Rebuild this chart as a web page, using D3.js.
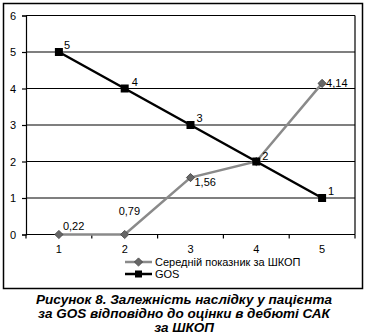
<!DOCTYPE html>
<html><head><meta charset="utf-8">
<script src="https://cdn.jsdelivr.net/npm/d3@7"></script>
<style>body{margin:0;background:#fff;}svg{display:block;}</style>
</head><body>
<script>
const categories = ["1","2","3","4","5"];
const shkopValues = [0, 0, 1.56, 2, 4.14];
const shkopLabels = ["0,22", "0,79", "1,56", "", "4,14"];
const gosValues = [5, 4, 3, 2, 1];
const gosLabels = ["5", "4", "3", "2", "1"];
const yTicks = [0,1,2,3,4,5,6];
const seriesNames = ["Середній показник за ШКОП", "GOS"];
const captionLines = ["Рисунок 8. Залежність наслідку у пацієнта", "за GOS відповідно до оцінки в дебюті САК", "за ШКОП"];

(function(){
const W = 367, H = 336;
const svg = d3.select("body").append("svg").attr("width", W).attr("height", H);
const font = "Arial, 'Liberation Sans', sans-serif";

svg.append("rect").attr("x", 3.5).attr("y", 3.5).attr("width", 359).attr("height", 285)
  .attr("fill", "none").attr("stroke", "#000").attr("stroke-width", 1.5);

const pLeft = 26, pRight = 355, pTop = 15.5, pBottom = 234.5;
const x = d3.scaleBand().domain(categories).range([pLeft, pRight]);
const y = d3.scaleLinear().domain([0, 6]).range([pBottom, pTop]);

svg.append("g").selectAll("line").data(yTicks).join("line")
  .attr("x1", pLeft).attr("x2", pRight)
  .attr("y1", d => y(d)).attr("y2", d => y(d))
  .attr("stroke", "#000").attr("stroke-width", 1.2);
svg.append("line").attr("x1", pRight).attr("x2", pRight).attr("y1", y(6)).attr("y2", y(0))
  .attr("stroke", "#000").attr("stroke-width", 1.2);

const yAxis = svg.append("g").attr("transform", `translate(${pLeft},0)`)
  .call(d3.axisLeft(y).tickValues(yTicks).tickSize(4).tickPadding(6).tickFormat(d3.format("d")));
yAxis.select(".domain").attr("stroke", "#000").attr("stroke-width", 1.2);
yAxis.selectAll("line").attr("stroke", "#000").attr("stroke-width", 1.2);
yAxis.selectAll("text").attr("font-family", font).attr("font-size", 11).attr("fill", "#000");

const xAxisG = svg.append("g").attr("transform", `translate(0,${pBottom})`);
xAxisG.append("line").attr("x1", pLeft).attr("x2", pRight).attr("stroke", "#000").attr("stroke-width", 1.2);
const bounds = categories.map(c => x(c)).concat([pRight]);
xAxisG.selectAll("line.tk").data(bounds).join("line").attr("class", "tk")
  .attr("x1", d => d).attr("x2", d => d).attr("y1", 0).attr("y2", 4)
  .attr("stroke", "#000").attr("stroke-width", 1.2);
xAxisG.selectAll("text").data(categories).join("text")
  .attr("x", d => x(d) + x.bandwidth()/2).attr("y", 18)
  .attr("text-anchor", "middle").attr("font-family", font).attr("font-size", 11).text(d => d);

const cx = c => x(c) + x.bandwidth()/2;
const line = d3.line().x((d,i) => cx(categories[i])).y(d => y(d));

svg.append("path").datum(shkopValues).attr("d", line)
  .attr("fill", "none").attr("stroke", "#8a8a8a").attr("stroke-width", 2.5);
svg.append("path").datum(gosValues).attr("d", line)
  .attr("fill", "none").attr("stroke", "#000").attr("stroke-width", 2.5);

const diamond = d3.symbol().type(d3.symbolSquare).size(34);
svg.append("g").selectAll("path").data(shkopValues).join("path")
  .attr("d", diamond)
  .attr("transform", (d,i) => `translate(${cx(categories[i])},${y(d)}) rotate(45)`)
  .attr("fill", "#666").attr("stroke", "#444").attr("stroke-width", 0.8);
svg.append("g").selectAll("rect").data(gosValues).join("rect")
  .attr("x", (d,i) => cx(categories[i]) - 4).attr("y", d => y(d) - 4)
  .attr("width", 8).attr("height", 8).attr("fill", "#000");

const gosOff = [[5,-3],[7,-3],[6,-3],[6,-2],[6,-3]];
svg.append("g").selectAll("text").data(gosValues).join("text")
  .attr("x", (d,i) => cx(categories[i]) + gosOff[i][0]).attr("y", (d,i) => y(d) + gosOff[i][1])
  .attr("font-family", font).attr("font-size", 11).text((d,i) => gosLabels[i]);
const shkopOff = [[4,-5],[-6,-20],[4,8],[0,0],[4,4]];
svg.append("g").selectAll("text").data(shkopValues).join("text")
  .attr("x", (d,i) => cx(categories[i]) + shkopOff[i][0]).attr("y", (d,i) => y(d) + shkopOff[i][1])
  .attr("font-family", font).attr("font-size", 11).text((d,i) => shkopLabels[i]);

const lg = svg.append("g").attr("transform", "translate(125,262)");
lg.append("line").attr("x1", 0).attr("x2", 27).attr("y1", 0).attr("y2", 0).attr("stroke", "#8a8a8a").attr("stroke-width", 2.5);
lg.append("path").attr("d", diamond).attr("transform", "translate(13.5,0) rotate(45)").attr("fill", "#666").attr("stroke", "#444").attr("stroke-width", 0.8);
lg.append("text").attr("x", 30).attr("y", 4).attr("font-family", font).attr("font-size", 11).text(seriesNames[0]);
lg.append("line").attr("x1", 0).attr("x2", 27).attr("y1", 12).attr("y2", 12).attr("stroke", "#000").attr("stroke-width", 2.5);
lg.append("rect").attr("x", 10).attr("y", 8.5).attr("width", 7).attr("height", 7).attr("fill", "#000");
lg.append("text").attr("x", 30).attr("y", 16).attr("font-family", font).attr("font-size", 11).text(seriesNames[1]);

svg.append("g").selectAll("text").data(captionLines).join("text")
  .attr("x", 184).attr("y", (d,i) => 304 + i*14)
  .attr("text-anchor", "middle").attr("font-family", font).attr("font-size", 13.5)
  .attr("font-weight", "bold").attr("font-style", "italic").text(d => d);
})();
</script>
</body></html>
